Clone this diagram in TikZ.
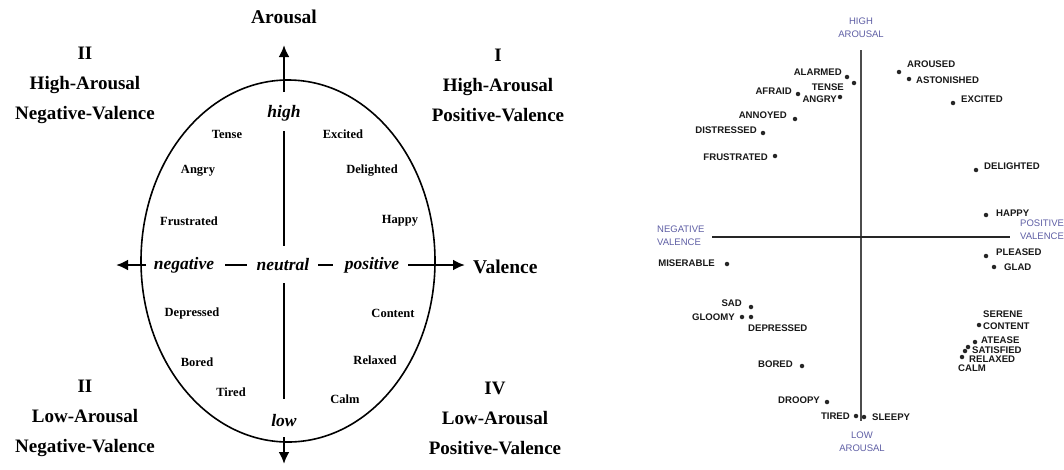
\documentclass[tikz,border=0pt]{standalone}
\usepackage{fontspec}
\setmainfont{Liberation Serif}
\newfontfamily\arialfont{Liberation Sans}
\usetikzlibrary{arrows.meta}
\definecolor{axblue}{RGB}{95,95,165}
\begin{document}
\begin{tikzpicture}[x=1pt,y=-1pt,
  quad/.style={align=center, font=\bfseries\fontsize{19}{30}\selectfont, inner sep=0pt},
  axislbl/.style={font=\bfseries\fontsize{19.5}{20}\selectfont, inner sep=0pt},
  pole/.style={font=\bfseries\itshape\fontsize{17.5}{18}\selectfont, inner sep=0pt},
  emo/.style={font=\bfseries\fontsize{12.5}{13}\selectfont, inner sep=0pt},
  axarrow/.style={line width=2.4pt, -{Latex[length=12pt,width=11pt]}},
  seg/.style={line width=2.4pt},
  pt/.style={circle, fill=black!85, inner sep=0pt, minimum size=4.5pt},
  rl/.style={font=\arialfont\bfseries\fontsize{9.6}{10}\selectfont, text=black!90, inner sep=0pt},
  bl/.style={font=\arialfont\fontsize{9.5}{13}\selectfont, text=axblue, align=center, inner sep=0pt},
  raxis/.style={line width=2.6pt, draw=black!70}
]
\useasboundingbox[fill=white] (0,0) rectangle (1064,469);

% ---------------- Left diagram ----------------
\draw[line width=1.6pt] (288,261) ellipse [x radius=147pt, y radius=181pt];

\node[axislbl] (arousal) at (284,17) {Arousal};
\node[axislbl, anchor=west] (valence) at (473,267) {Valence};

\node[pole] (high) at (284,113) {high};
\node[pole] (low) at (284,421) {low};
\node[pole] (neg) at (184,265) {negative};
\node[pole] (neu) at (283,265) {neutral};
\node[pole] (pos) at (372,265) {positive};

\coordinate (uptip) at (284,45);
\coordinate (upstart) at (284,92);
\coordinate (vtop1) at (284,131);
\coordinate (vbot1) at (284,246);
\coordinate (vtop2) at (284,283);
\coordinate (vbot2) at (284,399);
\coordinate (dnstart) at (284,437);
\coordinate (dntip) at (284,464);
\coordinate (ltip) at (116,265);
\coordinate (lstart) at (146,265);
\coordinate (rstart) at (408,265);
\coordinate (rtip) at (465,265);
\coordinate (d1a) at (225,265);
\coordinate (d1b) at (247,265);
\coordinate (d2a) at (318,265);
\coordinate (d2b) at (333,265);

\draw[axarrow] (upstart) -- (uptip);
\draw[seg] (vtop1) -- (vbot1);
\draw[seg] (vtop2) -- (vbot2);
\draw[axarrow] (dnstart) -- (dntip);
\draw[axarrow] (lstart) -- (ltip);
\draw[axarrow] (rstart) -- (rtip);
\draw[seg] (d1a) -- (d1b);
\draw[seg] (d2a) -- (d2b);

\node[quad] (q2) at (85,85) {II\\High-Arousal\\Negative-Valence};
\node[quad] (q1) at (498,85) {I\\High-Arousal\\Positive-Valence};
\node[quad] (q3) at (85,418) {II\\Low-Arousal\\Negative-Valence};
\node[quad] (q4) at (495,418) {IV\\Low-Arousal\\Positive-Valence};

\node[emo] (tense) at (227,134) {Tense};
\node[emo] (angry) at (198,171) {Angry};
\node[emo] (frus) at (189,221) {Frustrated};
\node[emo] (depr) at (192,313) {Depressed};
\node[emo] (bored) at (197,362) {Bored};
\node[emo] (tired) at (231,392) {Tired};
\node[emo] (exc) at (343,134) {Excited};
\node[emo] (deli) at (372,171) {Delighted};
\node[emo] (happy) at (400,221) {Happy};
\node[emo] (cont) at (393,313) {Content};
\node[emo] (relax) at (375,360) {Relaxed};
\node[emo] (calm) at (345,399) {Calm};

% ---------------- Right diagram ----------------
\coordinate (vt) at (861,50);
\coordinate (vb) at (861,421);
\coordinate (hl) at (712,237);
\coordinate (hr) at (1010,237);
\draw[raxis] (vt) -- (vb);
\draw[raxis, draw=black!85] (hl) -- (hr);

\node[bl] (highar) at (861,28) {HIGH\\AROUSAL};
\node[bl] (lowar) at (862,442) {LOW\\AROUSAL};
\node[bl, anchor=west, align=left] (negval) at (657,236) {NEGATIVE\\VALENCE};
\node[bl, anchor=west, align=left] (posval) at (1020,230) {POSITIVE\\VALENCE};

% upper left quadrant
\node[pt] (p1) at (847,77) {};  \node[rl, anchor=east] (l1) at (842,72) {ALARMED};
\node[pt] (p2) at (854,83) {};  \node[rl, anchor=east] (l2) at (844,87) {TENSE};
\node[pt] (p3) at (798,94) {};  \node[rl, anchor=east] (l3) at (792,91) {AFRAID};
\node[pt] (p4) at (840,97) {};  \node[rl, anchor=east] (l4) at (837,99) {ANGRY};
\node[pt] (p5) at (795,119) {}; \node[rl, anchor=east] (l5) at (787,115) {ANNOYED};
\node[pt] (p6) at (763,133) {}; \node[rl, anchor=east] (l6) at (757,130) {DISTRESSED};
\node[pt] (p7) at (775,156) {}; \node[rl, anchor=east] (l7) at (768,157) {FRUSTRATED};

% upper right quadrant
\node[pt] (p8) at (899,72) {};  \node[rl, anchor=west] (l8) at (907,64) {AROUSED};
\node[pt] (p9) at (909,79) {};  \node[rl, anchor=west] (l9) at (916,80) {ASTONISHED};
\node[pt] (p10) at (953,103) {}; \node[rl, anchor=west] (l10) at (961,99) {EXCITED};
\node[pt] (p11) at (976,170) {}; \node[rl, anchor=west] (l11) at (984,166) {DELIGHTED};
\node[pt] (p12) at (986,215) {}; \node[rl, anchor=west] (l12) at (996,213) {HAPPY};

% lower right quadrant
\node[pt] (p13) at (986,256) {}; \node[rl, anchor=west] (l13) at (996,252) {PLEASED};
\node[pt] (p14) at (994,267) {}; \node[rl, anchor=west] (l14) at (1004,267) {GLAD};
\node[rl, anchor=west] (l15) at (983,314) {SERENE};
\node[pt] (p16) at (979,325) {}; \node[rl, anchor=west] (l16) at (983,326) {CONTENT};
\node[pt] (p17) at (975,342) {}; \node[rl, anchor=west] (l17) at (981,340) {ATEASE};
\node[pt] (p18) at (968,347) {};
\node[pt] (p19) at (965,351) {}; \node[rl, anchor=west] (l19) at (972,350) {SATISFIED};
\node[pt] (p20) at (962,357) {}; \node[rl, anchor=west] (l20) at (969,359) {RELAXED};
\node[rl, anchor=west] (l21) at (958,368) {CALM};

% lower left quadrant
\node[pt] (p22) at (727,264) {}; \node[rl, anchor=east] (l22) at (715,263) {MISERABLE};
\node[pt] (p23) at (751,307) {}; \node[rl, anchor=east] (l23) at (742,303) {SAD};
\node[pt] (p24) at (742,317) {}; \node[rl, anchor=east] (l24) at (735,317) {GLOOMY};
\node[pt] (p25) at (751,317) {}; \node[rl, anchor=west] (l25) at (748,328) {DEPRESSED};
\node[pt] (p26) at (802,366) {}; \node[rl, anchor=east] (l26) at (793,364) {BORED};
\node[pt] (p27) at (827,402) {}; \node[rl, anchor=east] (l27) at (820,400) {DROOPY};
\node[pt] (p28) at (856,416) {}; \node[rl, anchor=east] (l28) at (850,416) {TIRED};
\node[pt] (p29) at (864,417) {}; \node[rl, anchor=west] (l29) at (872,417) {SLEEPY};
\end{tikzpicture}
\end{document}
